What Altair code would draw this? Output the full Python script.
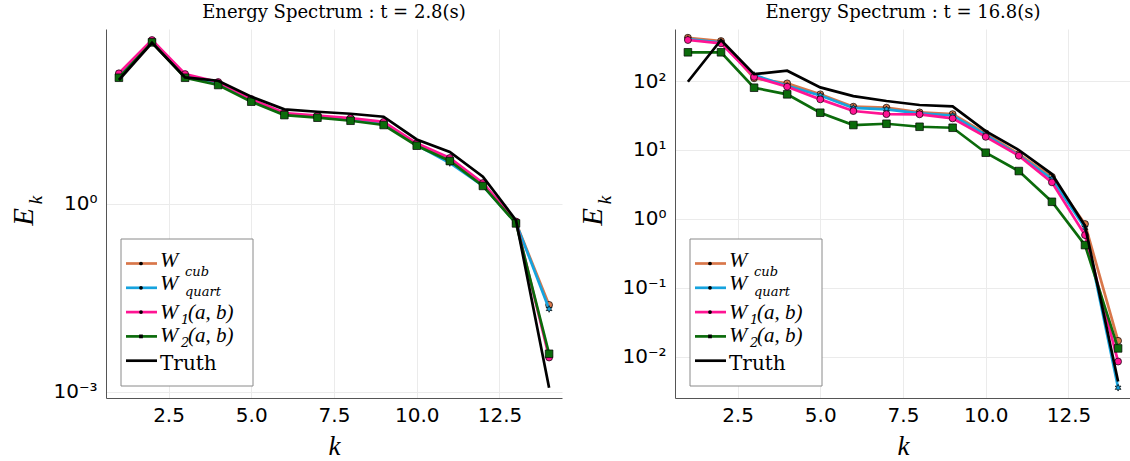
import altair as alt
import pandas as pd

k = list(range(1, 15))
series = ["W_cub", "W_quart", "W1", "W2", "Truth"]

# Left panel: t = 2.8 s
left_cub = [114.8, 398, 112.2, 85.1, 45.7, 27.5, 25.1, 22.9, 20.0, 8.91, 5.01, 2.0, 0.50, 0.0245]
left_quart = [112.2, 389, 109.6, 83.2, 44.7, 26.9, 24.5, 22.4, 19.5, 8.71, 4.51, 1.95, 0.50, 0.0211]
left_w1 = [121.6, 413, 118.3, 88.3, 47.3, 28.2, 25.7, 23.4, 20.4, 9.29, 5.42, 2.16, 0.525, 0.00355]
left_w2 = [103.3, 379, 103.3, 79.1, 42.9, 26.2, 23.8, 21.3, 18.2, 8.51, 4.85, 1.94, 0.49, 0.00407]
left_truth = [95.1, 374, 104.7, 92.5, 51.4, 32.4, 29.6, 27.5, 24.7, 10.7, 6.75, 2.72, 0.55, 0.00117]

# Right panel: t = 16.8 s
right_cub = [424.6, 380.2, 109.6, 92.5, 64.1, 42.4, 41.0, 35.1, 33.1, 17.4, 8.71, 4.07, 0.841, 0.0170]
right_quart = [407.4, 363.1, 122.2, 85.1, 61.7, 40.7, 38.9, 33.9, 31.6, 16.6, 8.32, 3.80, 0.741, 0.00355]
right_w1 = [393.6, 352.4, 114.8, 82.8, 54.2, 36.7, 33.1, 32.9, 28.7, 15.5, 8.24, 3.39, 0.582, 0.00851]
right_w2 = [261.2, 261.2, 80.0, 64.1, 34.7, 23.0, 24.0, 21.7, 21.0, 9.12, 4.94, 1.77, 0.417, 0.0132]
right_truth = [97.7, 393.6, 125.9, 141.3, 80.9, 60.5, 51.3, 44.9, 43.0, 18.8, 9.98, 4.47, 0.794, 0.00437]

x_ticks = [2.5, 5.0, 7.5, 10.0, 12.5]
left_y_ticks = [1.0, 0.001]
right_y_ticks = [100.0, 10.0, 1.0, 0.1, 0.01]

STAR = ("M0,-1L0.25,-0.43L0.87,-0.5L0.5,0L0.87,0.5L0.25,0.43L0,1L-0.25,0.43"
        "L-0.87,0.5L-0.5,0L-0.87,-0.5L-0.25,-0.43Z")
colors = {"W_cub": "#d9774a", "W_quart": "#16a3de", "W1": "#ff1493", "W2": "#0b6b0b", "Truth": "#000000"}
shapes = {"W_cub": "circle", "W_quart": STAR, "W1": "circle", "W2": "square", "Truth": None}
sizes = {"W_cub": 48, "W_quart": 45, "W1": 48, "W2": 58}
subs = {"W_cub": "cub", "W_quart": "quart", "W1": "1", "W2": "2"}
# legend text offsets: (W baseline, subscript baseline, subscript x)
leg_off = {"W_cub": (3, 12, 79), "W_quart": (2, 8, 79), "W1": (7, 12, 75), "W2": (6, 11, 75)}

SERIF = "Liberation Serif"
DSERIF = "DejaVu Serif"
SANS = "DejaVu Sans"
W, H = 456, 369

sup_expr = ("'10' + replace(replace(replace(replace(replace(toString(round(log(datum.value)/LN10)),"
            "'-','⁻'),'0','⁰'),'1','¹'),'2','²'),'3','³')")


def panel(values, ydomain, yticks, title):
    xs = alt.Scale(domain=[0.61, 14.39], nice=False, zero=False)
    ys = alt.Scale(type="log", domain=ydomain, nice=False)
    xa = alt.Axis(values=x_ticks, title="k", titleFont=SERIF, titleFontStyle="italic",
                  titleFontSize=27, titleFontWeight="normal", titlePadding=8,
                  labelFont=SANS, labelFontSize=20, labelColor="black", labelPadding=7,
                  ticks=False, labelExpr="format(datum.value, '.1f')", orient="bottom")
    ya = alt.Axis(values=yticks, title=None, labelFont=SANS, labelFontSize=20,
                  labelColor="black", labelPadding=9, ticks=False,
                  labelExpr=sup_expr, orient="left")
    layers = []
    for name in series:
        df = pd.DataFrame({"k": k, "E": values[name]})
        base = alt.Chart(df).encode(x=alt.X("k:Q", scale=xs, axis=xa),
                                    y=alt.Y("E:Q", scale=ys, axis=ya))
        layers.append(base.mark_line(color=colors[name], strokeWidth=2.7))
        if shapes[name]:
            layers.append(base.mark_point(shape=shapes[name], filled=True, fill=colors[name],
                                          stroke="black", strokeWidth=0.7, size=sizes[name],
                                          opacity=1))
    one = pd.DataFrame({"a": [0]})
    c = alt.Chart(one)
    # y-axis label E_k
    layers.append(c.mark_text(text="E", font=SERIF, fontStyle="italic", fontSize=29, angle=270,
                              align="center", baseline="alphabetic", color="black")
                  .encode(x=alt.value(-73), y=alt.value(188)))
    layers.append(c.mark_text(text="k", font=SERIF, fontStyle="italic", fontSize=19, angle=270,
                              align="center", baseline="alphabetic", color="black")
                  .encode(x=alt.value(-64), y=alt.value(171)))
    # legend
    layers.append(c.mark_rect(fill="white", stroke="#8a8a8a", strokeWidth=1)
                  .encode(x=alt.value(15), x2=alt.value(147), y=alt.value(210), y2=alt.value(357)))
    for i, name in enumerate(series):
        ry = 234.5 + 24.3 * i
        layers.append(c.mark_rule(color=colors[name], strokeWidth=2.7)
                      .encode(x=alt.value(20), x2=alt.value(51), y=alt.value(ry)))
        if shapes[name]:
            shp = "square" if shapes[name] == "square" else "circle"
            layers.append(c.mark_point(shape=shp, filled=True, color="black", size=14, opacity=1)
                          .encode(x=alt.value(35), y=alt.value(ry)))
        if name == "Truth":
            layers.append(c.mark_text(text="Truth", font=DSERIF, fontSize=20, align="left",
                                      baseline="alphabetic", color="black")
                          .encode(x=alt.value(54), y=alt.value(ry + 9)))
        else:
            wb, sb, sx = leg_off[name]
            layers.append(c.mark_text(text="W", font=SERIF, fontStyle="italic", fontSize=22,
                                      align="left", baseline="alphabetic", color="black")
                          .encode(x=alt.value(54), y=alt.value(ry + wb)))
            layers.append(c.mark_text(text=subs[name], font=DSERIF, fontStyle="italic", fontSize=13,
                                      align="left", baseline="alphabetic", color="black")
                          .encode(x=alt.value(sx), y=alt.value(ry + sb)))
            if name in ("W1", "W2"):
                layers.append(c.mark_text(text="(a, b)", font=SERIF, fontStyle="italic", fontSize=21,
                                          align="left", baseline="alphabetic", color="black")
                              .encode(x=alt.value(82), y=alt.value(ry + wb)))
    return alt.layer(*layers).properties(
        width=W, height=H,
        title=alt.TitleParams(title, font=DSERIF, fontSize=18, fontWeight="normal",
                              color="black", anchor="middle", offset=7))


left_vals = {"W_cub": left_cub, "W_quart": left_quart, "W1": left_w1, "W2": left_w2, "Truth": left_truth}
right_vals = {"W_cub": right_cub, "W_quart": right_quart, "W1": right_w1, "W2": right_w2, "Truth": right_truth}

left = panel(left_vals, [10 ** -3.096, 10 ** 2.792], left_y_ticks, "Energy Spectrum : t = 2.8(s)")
right = panel(right_vals, [10 ** -2.599, 10 ** 2.755], right_y_ticks, "Energy Spectrum : t = 16.8(s)")

chart = alt.hconcat(left, right, spacing=113, bounds="flush").configure_view(
    stroke=None
).configure_axis(
    domainColor="#555555", domainWidth=1, gridColor="#ebebeb", gridWidth=1
).properties(
    autosize=alt.AutoSizeParams(type="none"),
    padding={"left": 106, "top": 29, "right": 1024, "bottom": 432},
    background="white",
)

chart.save("out.html", embed_options={"renderer": "svg", "actions": False})
